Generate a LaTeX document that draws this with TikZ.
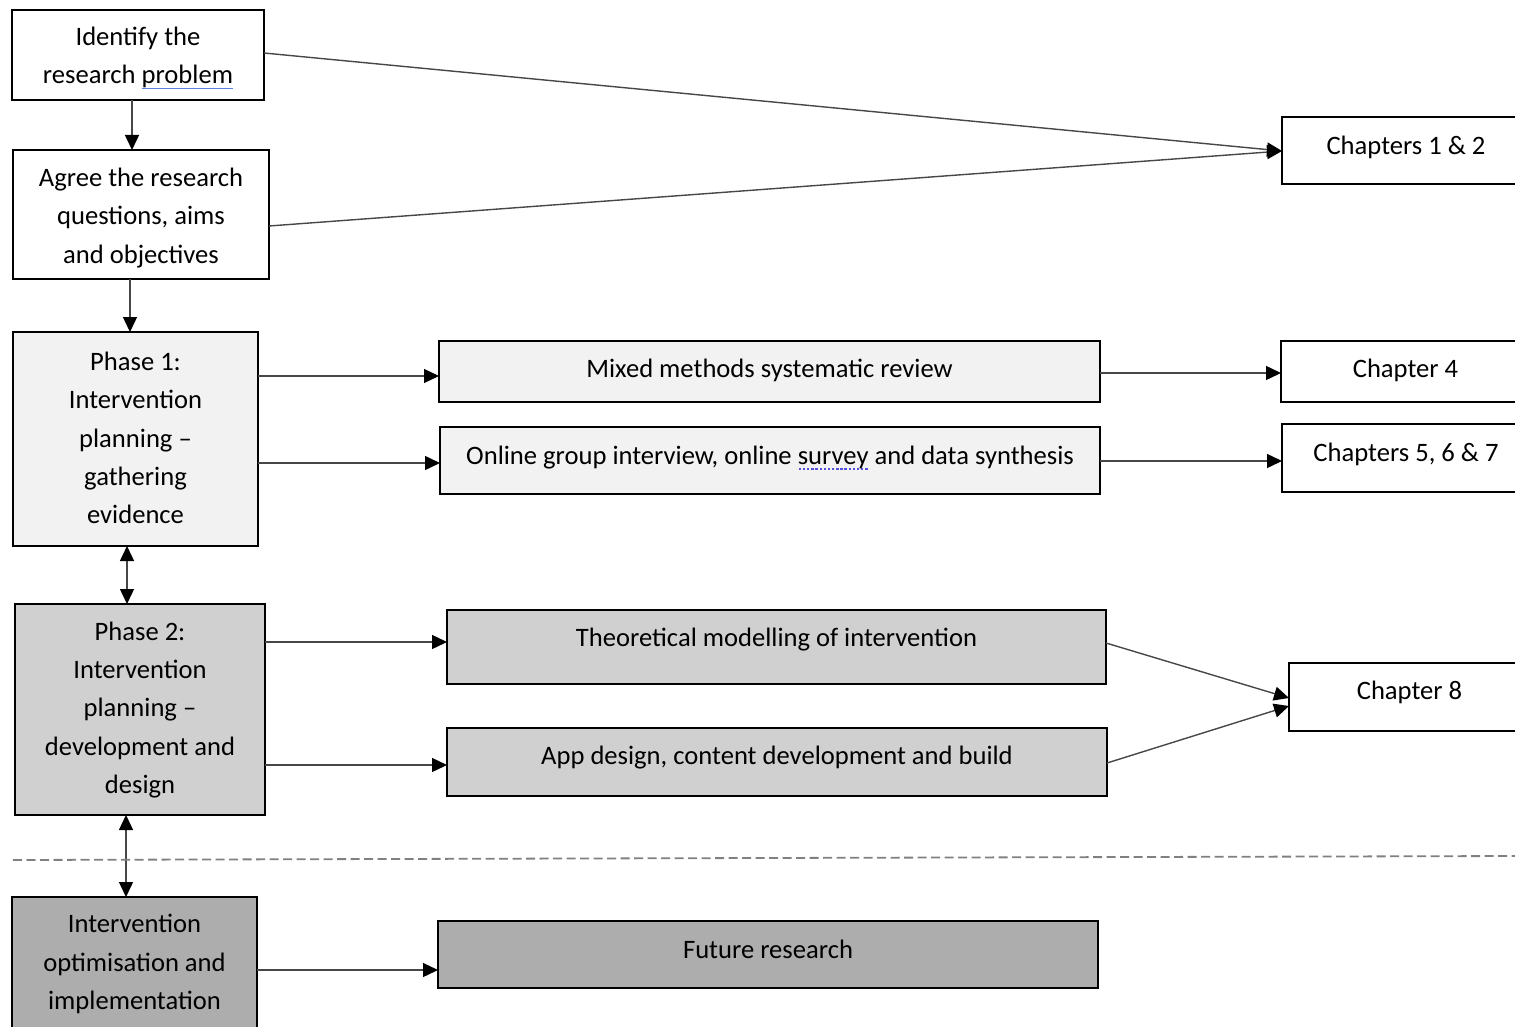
\documentclass[tikz,border=0pt]{standalone}
\usepackage{fontspec}
\setmainfont{Carlito}
\usetikzlibrary{arrows.meta}

\definecolor{shadeA}{HTML}{F2F2F2}
\definecolor{shadeB}{HTML}{D0D0D0}
\definecolor{shadeC}{HTML}{ADADAD}
\definecolor{spell}{HTML}{5A82DA}
\definecolor{spelldot}{HTML}{5550E0}

% proofing marks under single words
\newsavebox\markbox
\newcommand\spellline[1]{\sbox\markbox{#1}%
  \rlap{\textcolor{spell}{\rule[-0.2em]{\wd\markbox}{1.3pt}}}\usebox\markbox}
\newcommand\spelldots[1]{\sbox\markbox{#1}%
  \rlap{\hbox to \wd\markbox{\textcolor{spelldot}{\xleaders\hbox to 4pt{\hss\rule[-0.22em]{2.4pt}{1.8pt}\hss}\hfill}}}\usebox\markbox}

\tikzset{
  box/.style={draw=black, line width=2.4pt, rectangle, inner sep=0pt, outer sep=0pt},
  lbl/.style={align=center, inner sep=0pt, font=\fontsize{26.6}{38.3}\selectfont},
  arr/.style={draw=black!72, line width=1.4pt, -{Triangle[length=15pt, width=14pt, color=black]}},
  darr/.style={draw=black!72, line width=1.4pt, {Triangle[length=15pt, width=14pt, color=black]}-{Triangle[length=15pt, width=14pt, color=black]}},
  sep/.style={draw=black!50, line width=1.8pt, dash pattern=on 9pt off 4.5pt},
}

% #1 name, #2 x1, #3 y1, #4 x2, #5 y2, #6 fill, #7 text centre y, #8 text
\newcommand\flowbox[8]{%
  \node[box, fill=#6, minimum width={#4-#2}, minimum height={#5-#3}]
    (#1) at ({(#2+#4)/2},{(#3+#5)/2}) {};
  \node[lbl] (#1-t) at ({(#2+#4)/2},#7) {#8};
}

\begin{document}
\begin{tikzpicture}[x=1pt, y=-1pt]
  \useasboundingbox (0,0) rectangle (1515,1027);

  % left column: research stages
  \flowbox{id}{12}{10}{264}{100}{white}{58}{Identify the\\research \spellline{problem}}
  \flowbox{ag}{13}{150}{269}{279}{white}{218}{Agree the research\\questions, aims\\and objectives}
  \flowbox{pa}{13}{332}{258}{546}{shadeA}{438}{Phase 1:\\Intervention\\planning --\\gathering\\evidence}
  \flowbox{pb}{15}{604}{265}{815}{shadeB}{710}{Phase 2:\\Intervention\\planning --\\development and\\design}
  \flowbox{io}{12}{897}{257}{1045}{shadeC}{964}{Intervention\\optimisation and\\implementation}

  % middle column: studies
  \flowbox{mm}{439}{341}{1100}{402}{shadeA}{370}{Mixed methods systematic review}
  \flowbox{on}{440}{427}{1100}{494}{shadeA}{458}{Online group interview, online \spelldots{survey} and data synthesis}
  \flowbox{th}{447}{610}{1106}{684}{shadeB}{640}{Theoretical modelling of intervention}
  \flowbox{ap}{447}{728}{1107}{796}{shadeB}{758}{App design, content development and build}
  \flowbox{fr}{438}{921}{1098}{988}{shadeC}{949}{Future research}

  % right column: thesis chapters
  \flowbox{ca}{1282}{117}{1530}{184}{white}{147}{Chapters 1 \& 2}
  \flowbox{cb}{1281}{341}{1530}{402}{white}{370}{Chapter 4}
  \flowbox{cc}{1282}{424}{1530}{492}{white}{454}{Chapters 5, 6 \& 7}
  \flowbox{cd}{1289}{663}{1530}{731}{white}{692}{Chapter 8}

  % vertical flow
  \draw[arr] (id.south -| 132,0) -- (ag.north -| 132,0);
  \draw[arr] (ag.south -| 130,0) -- (pa.north -| 130,0);
  \draw[darr] (pa.south -| 127,0) -- (pb.north -| 127,0);
  \draw[darr] (pb.south -| 126,0) -- (io.north -| 126,0);

  % stages to chapters
  \draw[arr] ([yshift=2]id.east) -- ([yshift=-0.5]ca.west);
  \draw[arr] ([yshift=-11.5]ag.east) -- ([yshift=-0.5]ca.west);

  % stages to studies
  \draw[arr] (pa.east |- 0,376) -- (mm.west |- 0,376);
  \draw[arr] (pa.east |- 0,463) -- (on.west |- 0,463);
  \draw[arr] (pb.east |- 0,642) -- (th.west |- 0,642);
  \draw[arr] (pb.east |- 0,765) -- (ap.west |- 0,765);
  \draw[arr] (io.east |- 0,970) -- (fr.west |- 0,970);

  % studies to chapters
  \draw[arr] (mm.east |- 0,373) -- (cb.west |- 0,373);
  \draw[arr] (on.east |- 0,461) -- (cc.west |- 0,461);
  \draw[arr] (th.east |- 0,643) -- (cd.west |- 0,698);
  \draw[arr] (ap.east |- 0,763) -- (cd.west |- 0,706);

  % boundary of the present work
  \draw[sep] (13,860) -- (1515,856);
\end{tikzpicture}
\end{document}
